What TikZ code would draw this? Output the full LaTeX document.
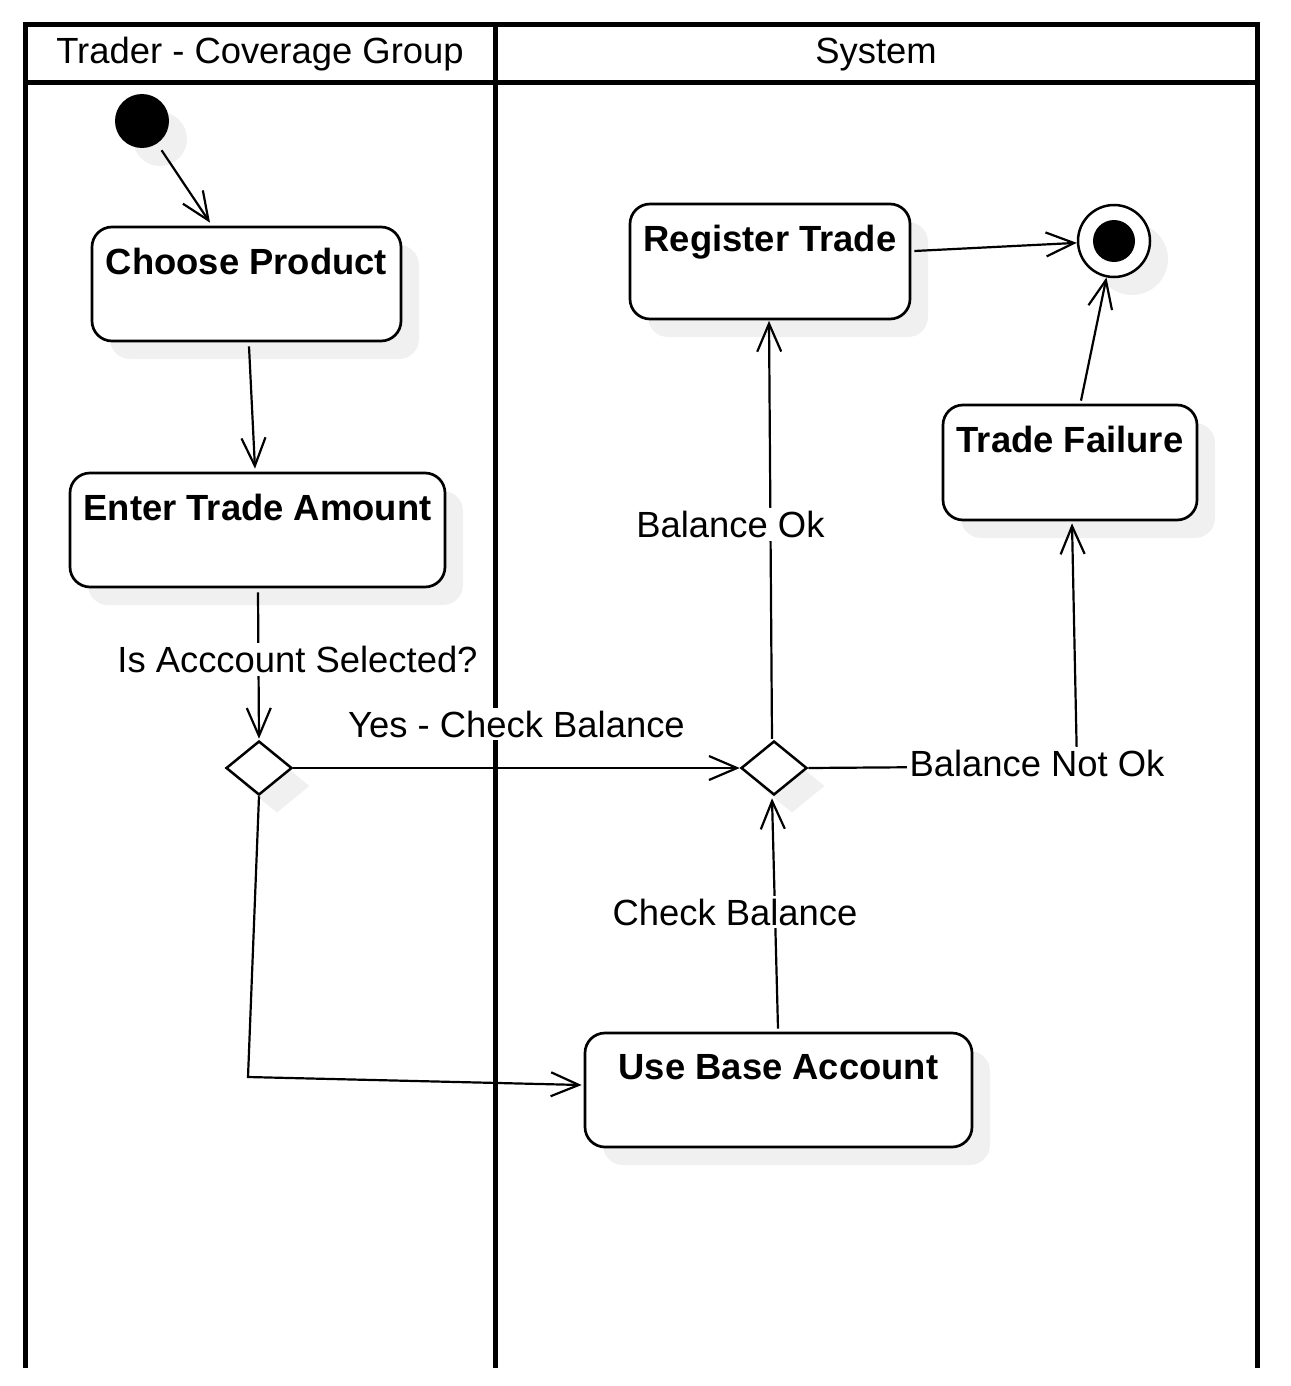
\documentclass[tikz,border=0pt]{standalone}
\usepackage{fontspec}
\setmainfont{Liberation Sans}
\usetikzlibrary{arrows.meta,shapes.geometric,shadows,calc}
\definecolor{shadowgray}{RGB}{240,240,240}
\newcommand\diagfont{\fontsize{36.4pt}{43pt}\selectfont}
\tikzset{
  lane/.style={line width=5pt, line join=miter},
  shd/.style={general shadow={fill=shadowgray, shadow xshift=18pt, shadow yshift=-18pt}},
  actbox/.style={shd, draw, fill=white, rounded corners=20pt, line width=2.7pt, inner sep=0pt},
  boxtitle/.style={anchor=north, yshift=-22.5pt, inner sep=0pt, font=\diagfont\bfseries},
  decision/.style={shd, draw, fill=white, diamond, line width=2.5pt, inner sep=0pt, minimum width=66pt, minimum height=54pt},
  startnode/.style={shd, circle, fill=black, minimum size=54pt, inner sep=0pt},
  endnode/.style={shd, circle, draw, fill=white, line width=2.5pt, minimum size=72pt, inner sep=0pt,
    path picture={\fill[black] (path picture bounding box.center) circle (21pt);}},
  flow/.style={line width=2.2pt, -{Straight Barb[length=28pt,width=24pt,line width=2.2pt]}},
  elabel/.style={fill=white, inner sep=3pt},
}
\begin{document}
\begin{tikzpicture}[x=1pt,y=-1pt,font=\diagfont]
\useasboundingbox (0,0) rectangle (1290,1386);
% swimlanes
\draw[lane] (25,1368) -- (25,25) -- (1257,25) -- (1257,1368);
\draw[lane] (25,83) -- (1257,83);
\draw[lane] (495,25) -- (495,1368);
\node[anchor=base] (h1) at (260,64) {Trader - Coverage Group};
\node[anchor=base] (h2) at (876,64) {System};
% nodes
\node[startnode] (init) at (142,121) {};
\node[actbox, minimum width=309pt, minimum height=114pt, label={[boxtitle]north:Choose Product}] (cp) at (246.5,284) {};
\node[actbox, minimum width=375pt, minimum height=114pt, label={[boxtitle]north:Enter Trade Amount}] (eta) at (257.5,530) {};
\node[decision] (d1) at (259,768) {};
\node[decision] (d2) at (774,768) {};
\node[actbox, minimum width=280pt, minimum height=115pt, label={[boxtitle]north:Register Trade}] (rt) at (770,261.5) {};
\node[actbox, minimum width=254pt, minimum height=115pt, label={[boxtitle]north:Trade Failure}] (tf) at (1070,462.5) {};
\node[actbox, minimum width=387pt, minimum height=114pt, label={[boxtitle]north:Use Base Account}] (uba) at (778.5,1090) {};
\node[endnode] (fin) at (1114,241) {};
% connectors
\draw[flow, shorten <=8pt] (init) -- ($(cp.north)+(-36.5,-3)$);
\draw[flow] ($(cp.south)+(2.5,4)$) -- ($(eta.north)+(-2.5,-3)$);
\draw[flow] ($(eta.south)+(0.5,4)$) -- node[elabel, pos=0.46, xshift=39pt]{Is Acccount Selected?} ($(d1.north)+(0,-1)$);
\draw[flow] (d1.east) -- node[elabel, yshift=44pt]{Yes - Check Balance} (d2.west);
\coordinate (c1) at (248,1077);
\draw[flow] (d1.south) -- (c1) -- ($(uba.west)+(-2,-5)$);
\draw[flow] ($(uba.north)+(-0.5,-3)$) -- node[elabel, pos=0.506, xshift=-40pt]{Check Balance} ($(d2.south)+(-2,2)$);
\draw[flow] ($(d2.north)+(-2,-1)$) -- node[elabel, pos=0.512, xshift=-40pt]{Balance Ok} ($(rt.south)+(-1,0.5)$);
\coordinate (c2) at (1077,766);
\draw[flow] (d2.east) -- (c2) node[elabel, xshift=-40pt, yshift=3pt]{Balance Not Ok} -- ($(tf.south)+(2,2)$);
\draw[flow] ($(rt.east)+(3,-10.5)$) -- (fin);
\draw[flow] ($(tf.north)+(11,-3)$) -- (fin);
\end{tikzpicture}
\end{document}
